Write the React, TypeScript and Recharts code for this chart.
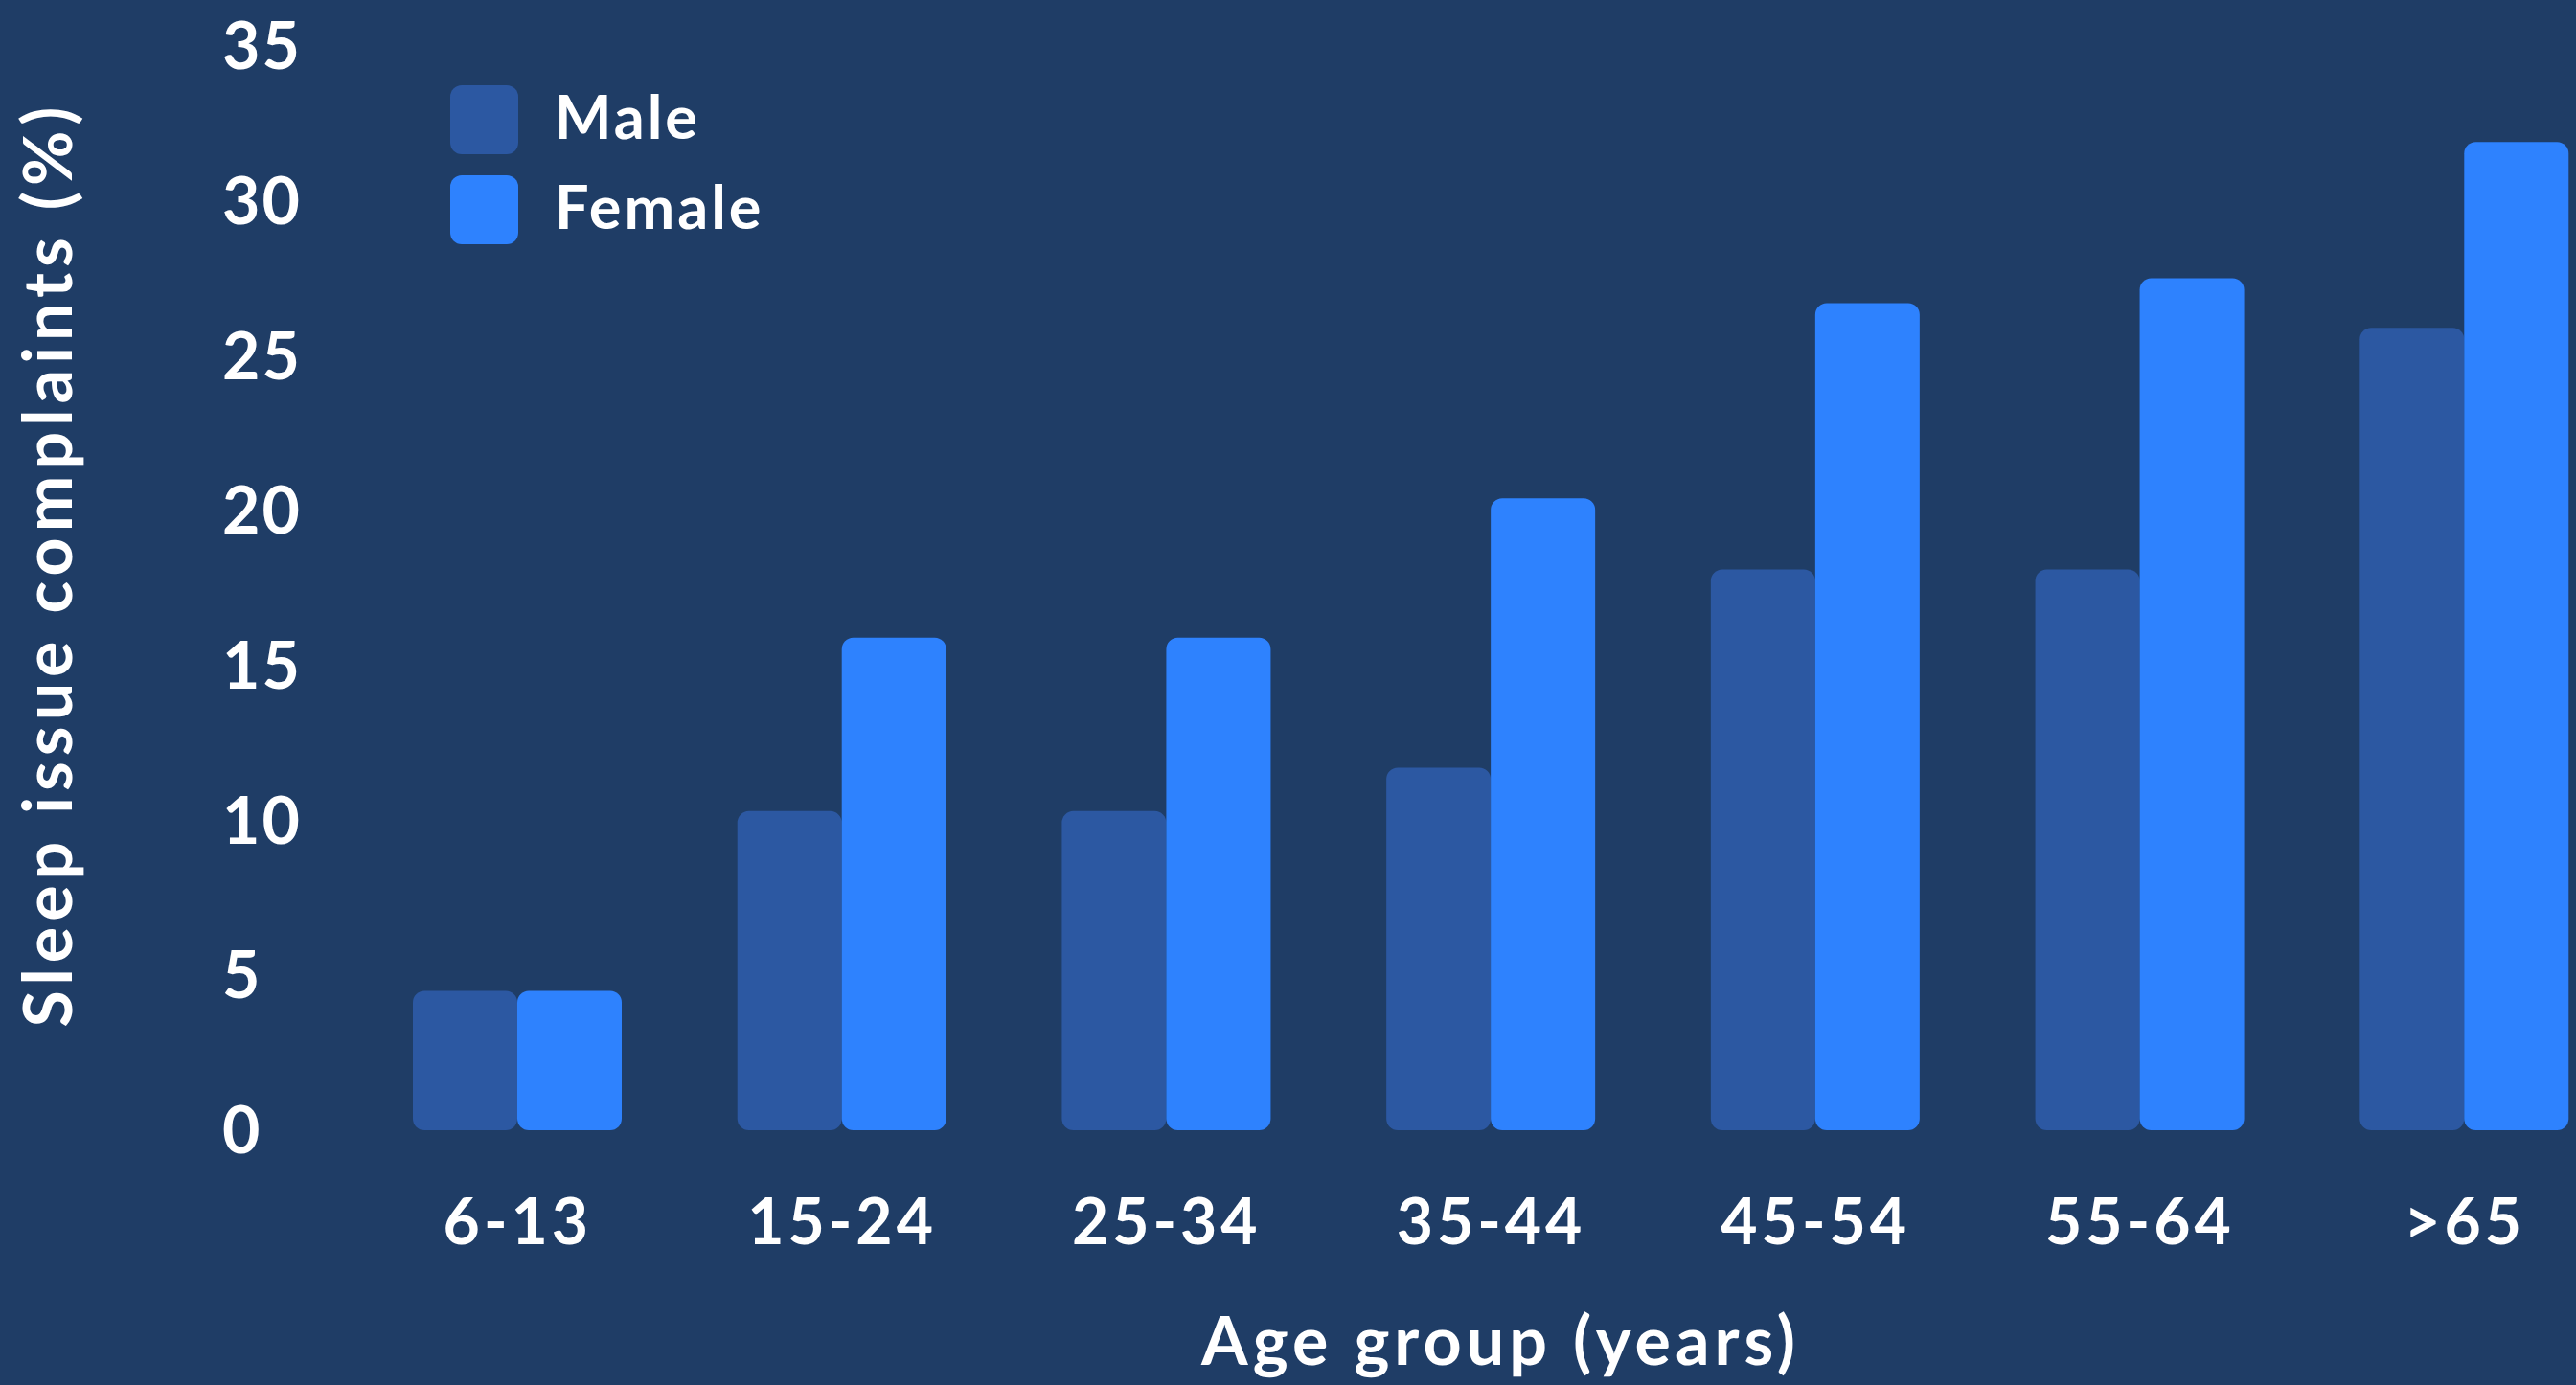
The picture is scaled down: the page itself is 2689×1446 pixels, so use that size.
import React from 'react';
import { BarChart, Bar, XAxis, YAxis, Legend, Label } from 'recharts';

const ageGroups = ['6-13', '15-24', '25-34', '35-44', '45-54', '55-64', '>65'];
const maleValues = [4.5, 10.3, 10.3, 11.7, 18.1, 18.1, 25.9];
const femaleValues = [4.5, 15.9, 15.9, 20.4, 26.7, 27.5, 31.9];
const yTicks = [0, 5, 10, 15, 20, 25, 30, 35];
const legendOrder = ['male', 'female'];

const BG = '#1f3d66';
const MALE_COLOR = '#2c58a2';
const FEMALE_COLOR = '#2e82fe';
const FONT = 'Lato, "Open Sans", sans-serif';

const data = ageGroups.map((group, i) => ({
  group,
  male: maleValues[i],
  female: femaleValues[i],
}));

const LegendBox = ({ payload }: any) => {
  // keep series order (Male, Female) instead of the default alphabetical one
  const items = [...(payload || [])].sort(
    (a: any, b: any) => legendOrder.indexOf(a.dataKey) - legendOrder.indexOf(b.dataKey)
  );
  return (
    <div style={{ display: 'flex', flexDirection: 'column', gap: 22 }}>
      {items.map((entry: any, index: number) => (
        <div key={index} style={{ display: 'flex', alignItems: 'center', gap: 38 }}>
          <div style={{ width: 71, height: 72, borderRadius: 12, backgroundColor: entry.color }} />
          <span
            style={{
              color: '#fff',
              fontSize: 63,
              fontWeight: 700,
              fontFamily: FONT,
              lineHeight: 1,
              letterSpacing: 3,
              position: 'relative',
              top: -5,
            }}
          >
            {entry.value}
          </span>
        </div>
      ))}
    </div>
  );
};

const YTitle = ({ viewBox }: any) => {
  const cx = viewBox.x + 48;
  const cy = viewBox.y + viewBox.height / 2 - 25;
  return (
    <text
      x={cx}
      y={cy}
      transform={`rotate(-90, ${cx}, ${cy})`}
      textAnchor="middle"
      dominantBaseline="central"
      fill="#fff"
      fontSize={70}
      fontWeight={700}
      fontFamily={FONT}
      letterSpacing={6}
    >
      Sleep issue complaints (%)
    </text>
  );
};

export default function App() {
  return (
    <div
      style={{
        position: 'fixed',
        left: 0,
        top: 0,
        width: 2689,
        height: 1446,
        overflow: 'hidden',
        background: BG,
        fontFamily: FONT,
      }}
    >
      <BarChart
        width={2760}
        height={1446}
        data={data}
        margin={{ top: 48, right: 18, left: 0, bottom: 0 }}
        barGap={0}
      >
        <XAxis
          dataKey="group"
          axisLine={false}
          tickLine={false}
          tickSize={0}
          tickMargin={72}
          height={266}
          interval={0}
          tick={{ fill: '#fff', fontSize: 66, fontWeight: 700, fontFamily: FONT, letterSpacing: 4 }}
        >
          <Label
            value="Age group (years)"
            position="insideBottom"
            offset={21}
            dx={10}
            fill="#fff"
            fontSize={70}
            fontWeight={700}
            fontFamily={FONT}
            letterSpacing={5}
          />
        </XAxis>
        <YAxis
          width={371}
          domain={[0, 35]}
          ticks={yTicks}
          interval={0}
          axisLine={false}
          tickLine={false}
          tickSize={0}
          tickMargin={139}
          tick={{ fill: '#fff', fontSize: 68, fontWeight: 700, fontFamily: FONT, textAnchor: 'start', letterSpacing: 2 }}
        >
          <Label content={<YTitle />} />
        </YAxis>
        <Legend
          layout="vertical"
          align="center"
          verticalAlign="middle"
          content={<LegendBox />}
          wrapperStyle={{ left: 470, top: 89, width: 'auto', height: 'auto' }}
        />
        <Bar dataKey="male" name="Male" fill={MALE_COLOR} barSize={109} radius={[12, 12, 12, 12]} isAnimationActive={false} />
        <Bar dataKey="female" name="Female" fill={FEMALE_COLOR} barSize={109} radius={[12, 12, 12, 12]} isAnimationActive={false} />
      </BarChart>
    </div>
  );
}
